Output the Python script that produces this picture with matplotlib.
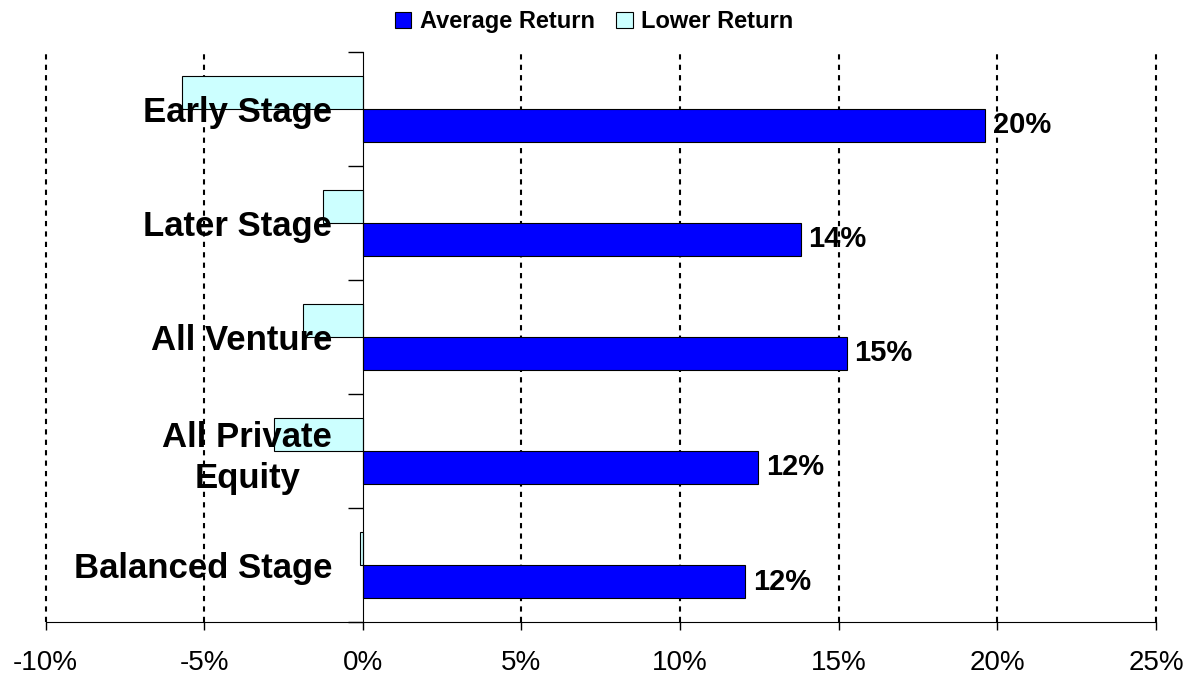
#!/usr/bin/env python3
"""Average vs. lower return by private equity stage, horizontal bars."""

import numpy as np
import matplotlib
matplotlib.use("Agg")
import matplotlib.pyplot as plt
from matplotlib.patches import Patch
from matplotlib.ticker import FixedLocator, FuncFormatter

plt.rcParams["font.family"] = ["Liberation Sans", "DejaVu Sans"]

categories = ["Early Stage", "Later Stage", "All Venture",
              "All Private\nEquity", "Balanced Stage"]
average_return = [19.6, 13.8, 15.25, 12.45, 12.05]
lower_return = [-5.7, -1.27, -1.89, -2.8, -0.1]
value_labels = ["20%", "14%", "15%", "12%", "12%"]
x_ticks = [-10, -5, 0, 5, 10, 15, 20, 25]

AVG_COLOR = "#0000FF"
LOW_COLOR = "#CCFFFF"


def main():
    fig = plt.figure(figsize=(11.88, 6.77), dpi=100)
    ax = fig.add_axes([0.0383, 0.0812, 0.9348, 0.8424])
    ax.set_axisbelow(False)  # category labels sit on top of the bars

    y = np.arange(len(categories))
    h = 0.29
    ax.barh(y - h / 2, lower_return, height=h, color=LOW_COLOR,
            edgecolor="black", linewidth=0.8, zorder=2)
    ax.barh(y + h / 2, average_return, height=h, color=AVG_COLOR,
            edgecolor="black", linewidth=0.8, zorder=2)

    for yi, val, lab in zip(y, average_return, value_labels):
        ax.text(val + 0.25, yi + h / 2, lab, ha="left", va="center",
                fontsize=21, fontweight="bold", zorder=4)

    ax.set_xlim(-10, 25)
    ax.set_ylim(len(categories) - 0.5, -0.5)

    # x axis
    ax.xaxis.set_major_locator(FixedLocator(x_ticks))
    ax.xaxis.set_major_formatter(FuncFormatter(lambda v, p: f"{v:.0f}%"))
    ax.tick_params(axis="x", direction="out", length=6, width=1,
                   labelsize=20, pad=14)
    for v in x_ticks:
        if v != 0:
            ax.axvline(v, color="black", linestyle=(0, (2.5, 2.5)),
                       linewidth=1.5, zorder=1, clip_on=False)

    # y axis at 0 with ticks on category boundaries, labels at centres
    ax.spines["left"].set_position(("data", 0))
    ax.spines["top"].set_visible(False)
    ax.spines["right"].set_visible(False)
    ax.yaxis.set_major_locator(FixedLocator(np.arange(-0.5, len(categories), 1)))
    ax.yaxis.set_major_formatter(FuncFormatter(lambda v, p: ""))
    ax.yaxis.set_minor_locator(FixedLocator(y))
    ax.set_yticklabels(categories, minor=True)
    ax.tick_params(axis="y", which="major", direction="out", length=11, width=1)
    ax.tick_params(axis="y", which="minor", length=0, pad=22,
                   labelsize=25)
    for t in ax.get_yticklabels(minor=True):
        t.set_fontweight("bold")
        t.set_multialignment("center")
        t.set_linespacing(1.3)

    handles = [Patch(facecolor=AVG_COLOR, edgecolor="black", linewidth=0.8),
               Patch(facecolor=LOW_COLOR, edgecolor="black", linewidth=0.8)]
    fig.legend(handles, ["Average Return", "Lower Return"], loc="upper center",
               bbox_to_anchor=(0.5, 1.016), ncol=2, frameon=False,
               prop={"size": 17, "weight": "bold"}, handlelength=0.7,
               handleheight=0.7, handletextpad=0.35, columnspacing=0.9)

    fig.savefig("out.png", dpi=100)


if __name__ == "__main__":
    main()
